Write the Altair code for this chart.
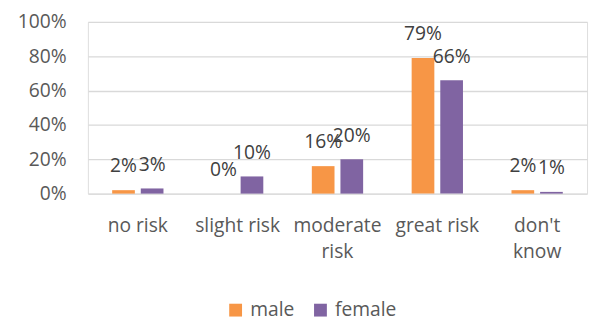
import altair as alt
import pandas as pd

categories = ["no risk", "slight risk", "moderate risk", "great risk", "don't know"]
series = ["male", "female"]
male = [2, 0, 16, 79, 2]
female = [3, 10, 20, 66, 1]
colors = ["#F79646", "#8064A2"]

rows = []
for c, m, f in zip(categories, male, female):
    rows.append({"category": c, "sex": "male", "value": m})
    rows.append({"category": c, "sex": "female", "value": f})
df = pd.DataFrame(rows)
df["label"] = df["value"].astype(str) + "%"

FONT = "Open Sans"
FS = 19.5

x = alt.X(
    "category:N",
    sort=categories,
    scale=alt.Scale(paddingInner=0.486, paddingOuter=0.243),
    axis=alt.Axis(
        title=None,
        labelAngle=0,
        domain=False,
        ticks=False,
        labelPadding=23,
        labelFont=FONT,
        labelFontSize=FS,
        labelColor="#595959",
        labelLineHeight=27,
        labelLimit=200,
        labelExpr="indexof(['moderate risk', \"don't know\"], datum.value) >= 0 ? split(datum.value, ' ') : datum.value",
    ),
)
xo = alt.XOffset("sex:N", sort=series, scale=alt.Scale(paddingInner=0.207, paddingOuter=0))
y = alt.Y(
    "value:Q",
    scale=alt.Scale(domain=[0, 100], nice=False),
    axis=alt.Axis(
        title=None,
        values=[0, 20, 40, 60, 80, 100],
        labelExpr="datum.value + '%'",
        domain=False,
        ticks=False,
        labelPadding=22,
        labelFont=FONT,
        labelFontSize=FS,
        labelColor="#595959",
        gridColor="#d9d9d9",
        gridWidth=1.3,
    ),
)

bars = alt.Chart(df).mark_bar().encode(
    x=x,
    xOffset=xo,
    y=y,
    color=alt.Color(
        "sex:N",
        sort=series,
        scale=alt.Scale(domain=series, range=colors),
        legend=alt.Legend(
            title=None,
            orient="none",
            legendX=140,
            legendY=282,
            direction="horizontal",
            symbolType="square",
            symbolSize=169,
            symbolStrokeWidth=0,
            labelFont=FONT,
            labelFontSize=FS,
            labelColor="#595959",
            columnPadding=16,
            labelOffset=5,
        ),
    ),
)

text = alt.Chart(df).mark_text(
    font=FONT, fontSize=FS, color="#404040", baseline="alphabetic", dy=-18
).encode(x=x, xOffset=xo, y=y, text="label:N")

chart = (
    alt.layer(bars, text)
    .properties(
        width=506,
        height=174,
        autosize=alt.AutoSizeParams(type="none"),
        padding={"left": 81, "top": 12, "right": 4, "bottom": 128},
    )
    .configure_view(stroke=None)
    .configure(background="white")
)

chart.save("out.html", embed_options={"renderer": "svg", "actions": False})
